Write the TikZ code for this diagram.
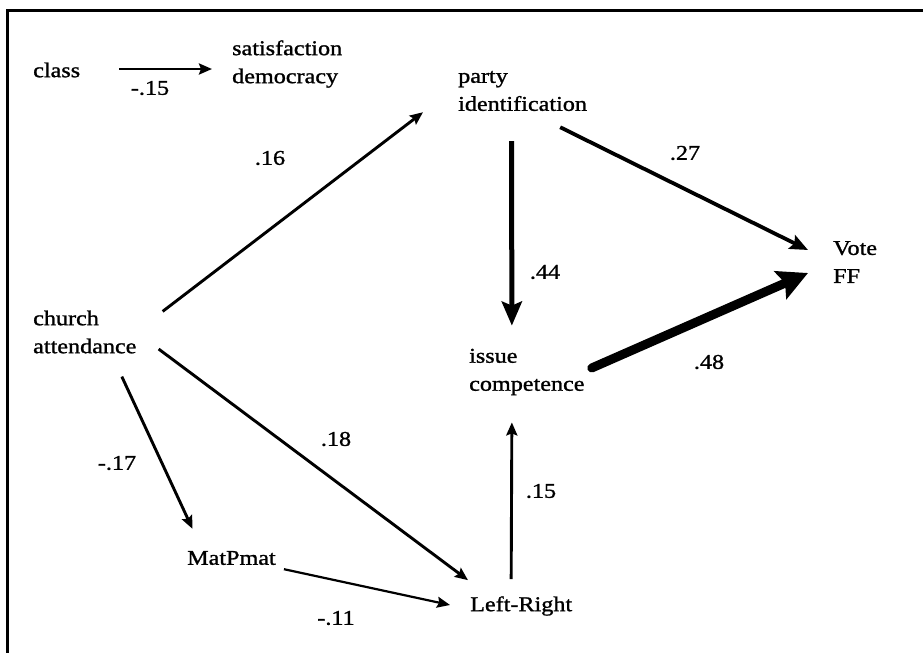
\documentclass[tikz,border=0pt]{standalone}
\usepackage{fontspec}
\setmainfont{Liberation Serif}[FakeStretch=1.15,FakeBold=1.2]
\usepackage{tikz}
\usetikzlibrary{arrows.meta,positioning}

\begin{document}
\begin{tikzpicture}[x=1pt,y=-1pt,
    var/.style={anchor=west,inner sep=0,align=left,font=\fontsize{21}{28}\selectfont},
    coef/.style={inner sep=0,font=\fontsize{21}{28}\selectfont},
    path/.style={line width=2.9pt,-{Stealth[length=13pt,width=11pt,inset=2pt]}},
    midpath/.style={line width=3.8pt,-{Stealth[length=18pt,width=15pt,inset=3pt]}},
    strongpath/.style={line width=5pt,-{Stealth[length=24pt,width=20pt,inset=4pt]}},
    heavypath/.style={line width=9pt,line cap=round,-{Stealth[length=30pt,width=30pt,inset=5pt]}}]
  \useasboundingbox (0,0) rectangle (923,653);
  % frame, only top and left edges
  \draw[line width=3pt] (923,10) -- (7,10) -- (7,653);

  \node[var] (class) at (33,70) {class};
  \node[var] (satis) at (232,64) {satisfaction\\democracy};
  \node[var] (party) at (458,91) {party\\identification};
  \node[var] (church) at (33,332) {church\\attendance};
  \node[var] (issue) at (469,372) {issue\\competence};
  \node[var] (vote) at (833,262) {Vote\\FF};
  \node[var] (matp) at (187,558) {MatPmat};
  \node[var] (lr) at (470,606) {Left-Right};

  \draw[path] ([shift={(39,-1)}]class.east) -- ([shift={(-20,5)}]satis.west);
  \draw[path] ([shift={(26,1)}]church.north east) -- ([shift={(-35,1)}]party.south west);
  \draw[midpath] ([shift={(-27,16)}]party.south east) -- ([shift={(-25,-12)}]vote.west);
  \draw[strongpath] ([shift={(-11,30)}]party.south) -- ([shift={(-15,-23)}]issue.north);
  \draw[heavypath] ([shift={(7,-4)}]issue.east) -- ([shift={(-25,11)}]vote.west);
  \draw[path] ([shift={(22,17)}]church.east) -- ([shift={(-2,-16)}]lr.north west);
  \draw[path] ([shift={(37,23)}]church.south) -- ([shift={(-39,-22)}]matp.north);
  \draw[path,line width=2.2pt] ([shift={(8,4)}]matp.south east) -- ([shift={(-20,-1)}]lr.west);
  \draw[path] ([shift={(-10,-17)}]lr.north) -- ([shift={(-15,27)}]issue.south);

  \node[coef] (c1) at (150,88) {-.15};
  \node[coef] (c2) at (270,158) {.16};
  \node[coef] (c3) at (685,153) {.27};
  \node[coef] (c4) at (545,272) {.44};
  \node[coef] (c5) at (709,362) {.48};
  \node[coef] (c6) at (336,439) {.18};
  \node[coef] (c7) at (117,463) {-.17};
  \node[coef] (c8) at (541,491) {.15};
  \node[coef] (c9) at (336,618) {-.11};
\end{tikzpicture}
\end{document}
